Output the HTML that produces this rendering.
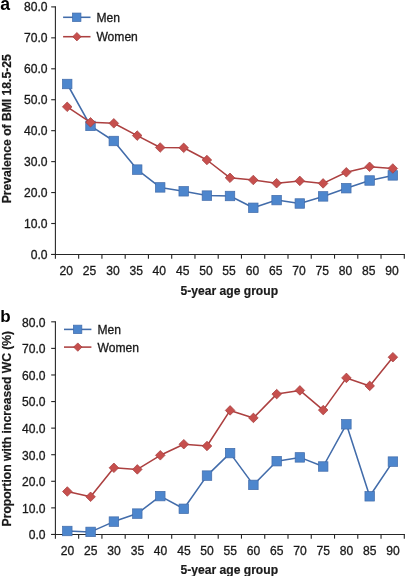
<!DOCTYPE html>
<html><head><meta charset="utf-8"><style>
html,body{margin:0;padding:0;background:#fff;}
body{width:405px;height:576px;overflow:hidden;}
svg{display:block;font-family:"Liberation Sans",sans-serif;}
</style></head><body>
<svg width="405" height="576" viewBox="0 0 405 576">
<defs><filter id="bl" x="0" y="0" width="405" height="576" filterUnits="userSpaceOnUse"><feGaussianBlur stdDeviation="0.3"/></filter></defs>
<rect width="405" height="576" fill="#fff"/>
<g filter="url(#bl)">
<g stroke="#262626" stroke-width="1.1" fill="none">
<path d="M55.4 6.3V258.65"/>
<path d="M51.2 254.45H404.9"/>
<path d="M51.2 254.45H55.4"/>
<path d="M51.2 223.51H55.4"/>
<path d="M51.2 192.56H55.4"/>
<path d="M51.2 161.62H55.4"/>
<path d="M51.2 130.67H55.4"/>
<path d="M51.2 99.73H55.4"/>
<path d="M51.2 68.79H55.4"/>
<path d="M51.2 37.84H55.4"/>
<path d="M51.2 6.9H55.4"/>
<path d="M78.66 254.45V258.65"/>
<path d="M101.92 254.45V258.65"/>
<path d="M125.18 254.45V258.65"/>
<path d="M148.44 254.45V258.65"/>
<path d="M171.7 254.45V258.65"/>
<path d="M194.96 254.45V258.65"/>
<path d="M218.22 254.45V258.65"/>
<path d="M241.48 254.45V258.65"/>
<path d="M264.74 254.45V258.65"/>
<path d="M288 254.45V258.65"/>
<path d="M311.26 254.45V258.65"/>
<path d="M334.52 254.45V258.65"/>
<path d="M357.78 254.45V258.65"/>
<path d="M381.04 254.45V258.65"/>
<path d="M404.3 254.45V258.65"/>
</g>
<g font-size="12.1" fill="#1a1a1a" text-anchor="end" stroke="#1a1a1a" stroke-width="0.3">
<text x="47.5" y="258.65">0.0</text>
<text x="47.5" y="227.71">10.0</text>
<text x="47.5" y="196.76">20.0</text>
<text x="47.5" y="165.82">30.0</text>
<text x="47.5" y="134.87">40.0</text>
<text x="47.5" y="103.93">50.0</text>
<text x="47.5" y="72.99">60.0</text>
<text x="47.5" y="42.04">70.0</text>
<text x="47.5" y="11.1">80.0</text>
</g>
<g font-size="12.1" fill="#1a1a1a" text-anchor="middle" stroke="#1a1a1a" stroke-width="0.3">
<text x="66.3" y="275.1">20</text>
<text x="89.6" y="275.1">25</text>
<text x="112.9" y="275.1">30</text>
<text x="136.3" y="275.1">35</text>
<text x="159.3" y="275.1">40</text>
<text x="182.8" y="275.1">45</text>
<text x="206" y="275.1">50</text>
<text x="229.1" y="275.1">55</text>
<text x="252.4" y="275.1">60</text>
<text x="275.7" y="275.1">65</text>
<text x="298.9" y="275.1">70</text>
<text x="322.2" y="275.1">75</text>
<text x="345.4" y="275.1">80</text>
<text x="368.7" y="275.1">85</text>
<text x="391.9" y="275.1">90</text>
</g>
<text x="229.3" y="294.6" font-size="12.1" font-weight="bold" fill="#1a1a1a" stroke="#1a1a1a" stroke-width="0.2" text-anchor="middle">5-year age group</text>
<text transform="translate(11.1 128.8) rotate(-90)" font-size="12.15" font-weight="bold" fill="#1a1a1a" stroke="#1a1a1a" stroke-width="0.2" text-anchor="middle">Prevalence of BMI 18.5-25</text>
<text x="0.3" y="9.7" font-size="17.6" font-weight="bold" fill="#000">a</text>
<polyline points="67.2,84 90.5,125.9 113.8,141 137.2,169.6 160.2,187.4 183.7,191.3 206.9,195.6 230,196 253.3,207.8 276.6,200.1 299.8,203.5 323.1,196.4 346.3,188.2 369.6,180.5 392.8,175.4" fill="none" stroke="#426CAA" stroke-width="1.55" stroke-linejoin="round"/>
<rect x="62.45" y="79.25" width="9.5" height="9.5" fill="#4D86CD" stroke="#426CAA" stroke-width="0.7"/>
<rect x="85.75" y="121.15" width="9.5" height="9.5" fill="#4D86CD" stroke="#426CAA" stroke-width="0.7"/>
<rect x="109.05" y="136.25" width="9.5" height="9.5" fill="#4D86CD" stroke="#426CAA" stroke-width="0.7"/>
<rect x="132.45" y="164.85" width="9.5" height="9.5" fill="#4D86CD" stroke="#426CAA" stroke-width="0.7"/>
<rect x="155.45" y="182.65" width="9.5" height="9.5" fill="#4D86CD" stroke="#426CAA" stroke-width="0.7"/>
<rect x="178.95" y="186.55" width="9.5" height="9.5" fill="#4D86CD" stroke="#426CAA" stroke-width="0.7"/>
<rect x="202.15" y="190.85" width="9.5" height="9.5" fill="#4D86CD" stroke="#426CAA" stroke-width="0.7"/>
<rect x="225.25" y="191.25" width="9.5" height="9.5" fill="#4D86CD" stroke="#426CAA" stroke-width="0.7"/>
<rect x="248.55" y="203.05" width="9.5" height="9.5" fill="#4D86CD" stroke="#426CAA" stroke-width="0.7"/>
<rect x="271.85" y="195.35" width="9.5" height="9.5" fill="#4D86CD" stroke="#426CAA" stroke-width="0.7"/>
<rect x="295.05" y="198.75" width="9.5" height="9.5" fill="#4D86CD" stroke="#426CAA" stroke-width="0.7"/>
<rect x="318.35" y="191.65" width="9.5" height="9.5" fill="#4D86CD" stroke="#426CAA" stroke-width="0.7"/>
<rect x="341.55" y="183.45" width="9.5" height="9.5" fill="#4D86CD" stroke="#426CAA" stroke-width="0.7"/>
<rect x="364.85" y="175.75" width="9.5" height="9.5" fill="#4D86CD" stroke="#426CAA" stroke-width="0.7"/>
<rect x="388.05" y="170.65" width="9.5" height="9.5" fill="#4D86CD" stroke="#426CAA" stroke-width="0.7"/>
<polyline points="67.2,106.8 90.5,122.3 113.8,123.3 137.2,135.6 160.2,147.5 183.7,147.8 206.9,160 230,177.8 253.3,180 276.6,183.2 299.8,180.9 323.1,183.4 346.3,172.3 369.6,166.8 392.8,168.5" fill="none" stroke="#AC4040" stroke-width="1.55" stroke-linejoin="round"/>
<path d="M67.2 102L72 106.8L67.2 111.6L62.4 106.8Z" fill="#C64F4E" stroke="#A43C3C" stroke-width="0.7" stroke-linejoin="miter"/>
<path d="M90.5 117.5L95.3 122.3L90.5 127.1L85.7 122.3Z" fill="#C64F4E" stroke="#A43C3C" stroke-width="0.7" stroke-linejoin="miter"/>
<path d="M113.8 118.5L118.6 123.3L113.8 128.1L109 123.3Z" fill="#C64F4E" stroke="#A43C3C" stroke-width="0.7" stroke-linejoin="miter"/>
<path d="M137.2 130.8L142 135.6L137.2 140.4L132.4 135.6Z" fill="#C64F4E" stroke="#A43C3C" stroke-width="0.7" stroke-linejoin="miter"/>
<path d="M160.2 142.7L165 147.5L160.2 152.3L155.4 147.5Z" fill="#C64F4E" stroke="#A43C3C" stroke-width="0.7" stroke-linejoin="miter"/>
<path d="M183.7 143L188.5 147.8L183.7 152.6L178.9 147.8Z" fill="#C64F4E" stroke="#A43C3C" stroke-width="0.7" stroke-linejoin="miter"/>
<path d="M206.9 155.2L211.7 160L206.9 164.8L202.1 160Z" fill="#C64F4E" stroke="#A43C3C" stroke-width="0.7" stroke-linejoin="miter"/>
<path d="M230 173L234.8 177.8L230 182.6L225.2 177.8Z" fill="#C64F4E" stroke="#A43C3C" stroke-width="0.7" stroke-linejoin="miter"/>
<path d="M253.3 175.2L258.1 180L253.3 184.8L248.5 180Z" fill="#C64F4E" stroke="#A43C3C" stroke-width="0.7" stroke-linejoin="miter"/>
<path d="M276.6 178.4L281.4 183.2L276.6 188L271.8 183.2Z" fill="#C64F4E" stroke="#A43C3C" stroke-width="0.7" stroke-linejoin="miter"/>
<path d="M299.8 176.1L304.6 180.9L299.8 185.7L295 180.9Z" fill="#C64F4E" stroke="#A43C3C" stroke-width="0.7" stroke-linejoin="miter"/>
<path d="M323.1 178.6L327.9 183.4L323.1 188.2L318.3 183.4Z" fill="#C64F4E" stroke="#A43C3C" stroke-width="0.7" stroke-linejoin="miter"/>
<path d="M346.3 167.5L351.1 172.3L346.3 177.1L341.5 172.3Z" fill="#C64F4E" stroke="#A43C3C" stroke-width="0.7" stroke-linejoin="miter"/>
<path d="M369.6 162L374.4 166.8L369.6 171.6L364.8 166.8Z" fill="#C64F4E" stroke="#A43C3C" stroke-width="0.7" stroke-linejoin="miter"/>
<path d="M392.8 163.7L397.6 168.5L392.8 173.3L388 168.5Z" fill="#C64F4E" stroke="#A43C3C" stroke-width="0.7" stroke-linejoin="miter"/>
<path d="M63.1 17.3H90.5" stroke="#426CAA" stroke-width="1.55"/>
<rect x="72.45" y="13.05" width="8.5" height="8.5" fill="#4D86CD" stroke="#426CAA" stroke-width="0.7"/>
<path d="M63.1 36.7H90.5" stroke="#AC4040" stroke-width="1.55"/>
<path d="M76.9 32.5L81.1 36.7L76.9 40.9L72.7 36.7Z" fill="#C64F4E" stroke="#A43C3C" stroke-width="0.7" stroke-linejoin="miter"/>
<text x="96.4" y="21.6" font-size="12.1" fill="#1a1a1a" stroke="#1a1a1a" stroke-width="0.3">Men</text>
<text x="96.4" y="40.9" font-size="12.1" fill="#1a1a1a" stroke="#1a1a1a" stroke-width="0.3">Women</text>
<g stroke="#262626" stroke-width="1.1" fill="none">
<path d="M55.4 321.2V538.65"/>
<path d="M51.2 534.45H404.9"/>
<path d="M51.2 534.45H55.4"/>
<path d="M51.2 507.87H55.4"/>
<path d="M51.2 481.29H55.4"/>
<path d="M51.2 454.71H55.4"/>
<path d="M51.2 428.13H55.4"/>
<path d="M51.2 401.55H55.4"/>
<path d="M51.2 374.97H55.4"/>
<path d="M51.2 348.39H55.4"/>
<path d="M51.2 321.81H55.4"/>
<path d="M78.66 534.45V538.65"/>
<path d="M101.92 534.45V538.65"/>
<path d="M125.18 534.45V538.65"/>
<path d="M148.44 534.45V538.65"/>
<path d="M171.7 534.45V538.65"/>
<path d="M194.96 534.45V538.65"/>
<path d="M218.22 534.45V538.65"/>
<path d="M241.48 534.45V538.65"/>
<path d="M264.74 534.45V538.65"/>
<path d="M288 534.45V538.65"/>
<path d="M311.26 534.45V538.65"/>
<path d="M334.52 534.45V538.65"/>
<path d="M357.78 534.45V538.65"/>
<path d="M381.04 534.45V538.65"/>
<path d="M404.3 534.45V538.65"/>
</g>
<g font-size="12.1" fill="#1a1a1a" text-anchor="end" stroke="#1a1a1a" stroke-width="0.3">
<text x="45.6" y="539.25">0.0</text>
<text x="45.6" y="512.67">10.0</text>
<text x="45.6" y="486.09">20.0</text>
<text x="45.6" y="459.51">30.0</text>
<text x="45.6" y="432.93">40.0</text>
<text x="45.6" y="406.35">50.0</text>
<text x="45.6" y="379.77">60.0</text>
<text x="45.6" y="353.19">70.0</text>
<text x="45.6" y="326.61">80.0</text>
</g>
<g font-size="12.1" fill="#1a1a1a" text-anchor="middle" stroke="#1a1a1a" stroke-width="0.3">
<text x="67.4" y="554.6">20</text>
<text x="90.7" y="554.6">25</text>
<text x="114" y="554.6">30</text>
<text x="137.4" y="554.6">35</text>
<text x="160.4" y="554.6">40</text>
<text x="183.9" y="554.6">45</text>
<text x="207.1" y="554.6">50</text>
<text x="230.2" y="554.6">55</text>
<text x="253.5" y="554.6">60</text>
<text x="276.8" y="554.6">65</text>
<text x="300" y="554.6">70</text>
<text x="323.3" y="554.6">75</text>
<text x="346.5" y="554.6">80</text>
<text x="369.8" y="554.6">85</text>
<text x="393" y="554.6">90</text>
</g>
<text x="229.3" y="573.9" font-size="12.1" font-weight="bold" fill="#1a1a1a" stroke="#1a1a1a" stroke-width="0.2" text-anchor="middle">5-year age group</text>
<text transform="translate(11.2 428.65) rotate(-90)" font-size="12.15" font-weight="bold" fill="#1a1a1a" stroke="#1a1a1a" stroke-width="0.2" text-anchor="middle">Proportion with increased WC (%)</text>
<text x="0.3" y="321.6" font-size="17" font-weight="bold" fill="#000">b</text>
<polyline points="67.3,531 90.6,531.9 113.9,521.6 137.3,513.6 160.3,496.1 183.8,508.8 207,475.6 230.1,453.1 253.4,484.9 276.7,461.2 299.9,457.4 323.2,466.5 346.4,424.3 369.7,496.3 392.9,461.6" fill="none" stroke="#426CAA" stroke-width="1.55" stroke-linejoin="round"/>
<rect x="62.55" y="526.25" width="9.5" height="9.5" fill="#4D86CD" stroke="#426CAA" stroke-width="0.7"/>
<rect x="85.85" y="527.15" width="9.5" height="9.5" fill="#4D86CD" stroke="#426CAA" stroke-width="0.7"/>
<rect x="109.15" y="516.85" width="9.5" height="9.5" fill="#4D86CD" stroke="#426CAA" stroke-width="0.7"/>
<rect x="132.55" y="508.85" width="9.5" height="9.5" fill="#4D86CD" stroke="#426CAA" stroke-width="0.7"/>
<rect x="155.55" y="491.35" width="9.5" height="9.5" fill="#4D86CD" stroke="#426CAA" stroke-width="0.7"/>
<rect x="179.05" y="504.05" width="9.5" height="9.5" fill="#4D86CD" stroke="#426CAA" stroke-width="0.7"/>
<rect x="202.25" y="470.85" width="9.5" height="9.5" fill="#4D86CD" stroke="#426CAA" stroke-width="0.7"/>
<rect x="225.35" y="448.35" width="9.5" height="9.5" fill="#4D86CD" stroke="#426CAA" stroke-width="0.7"/>
<rect x="248.65" y="480.15" width="9.5" height="9.5" fill="#4D86CD" stroke="#426CAA" stroke-width="0.7"/>
<rect x="271.95" y="456.45" width="9.5" height="9.5" fill="#4D86CD" stroke="#426CAA" stroke-width="0.7"/>
<rect x="295.15" y="452.65" width="9.5" height="9.5" fill="#4D86CD" stroke="#426CAA" stroke-width="0.7"/>
<rect x="318.45" y="461.75" width="9.5" height="9.5" fill="#4D86CD" stroke="#426CAA" stroke-width="0.7"/>
<rect x="341.65" y="419.55" width="9.5" height="9.5" fill="#4D86CD" stroke="#426CAA" stroke-width="0.7"/>
<rect x="364.95" y="491.55" width="9.5" height="9.5" fill="#4D86CD" stroke="#426CAA" stroke-width="0.7"/>
<rect x="388.15" y="456.85" width="9.5" height="9.5" fill="#4D86CD" stroke="#426CAA" stroke-width="0.7"/>
<polyline points="67.3,491.5 90.6,496.8 113.9,467.8 137.3,469.4 160.3,455.3 183.8,444.2 207,446 230.1,410.4 253.4,417.9 276.7,394.1 299.9,390.4 323.2,410.1 346.4,377.9 369.7,385.9 392.9,357.2" fill="none" stroke="#AC4040" stroke-width="1.55" stroke-linejoin="round"/>
<path d="M67.3 486.7L72.1 491.5L67.3 496.3L62.5 491.5Z" fill="#C64F4E" stroke="#A43C3C" stroke-width="0.7" stroke-linejoin="miter"/>
<path d="M90.6 492L95.4 496.8L90.6 501.6L85.8 496.8Z" fill="#C64F4E" stroke="#A43C3C" stroke-width="0.7" stroke-linejoin="miter"/>
<path d="M113.9 463L118.7 467.8L113.9 472.6L109.1 467.8Z" fill="#C64F4E" stroke="#A43C3C" stroke-width="0.7" stroke-linejoin="miter"/>
<path d="M137.3 464.6L142.1 469.4L137.3 474.2L132.5 469.4Z" fill="#C64F4E" stroke="#A43C3C" stroke-width="0.7" stroke-linejoin="miter"/>
<path d="M160.3 450.5L165.1 455.3L160.3 460.1L155.5 455.3Z" fill="#C64F4E" stroke="#A43C3C" stroke-width="0.7" stroke-linejoin="miter"/>
<path d="M183.8 439.4L188.6 444.2L183.8 449L179 444.2Z" fill="#C64F4E" stroke="#A43C3C" stroke-width="0.7" stroke-linejoin="miter"/>
<path d="M207 441.2L211.8 446L207 450.8L202.2 446Z" fill="#C64F4E" stroke="#A43C3C" stroke-width="0.7" stroke-linejoin="miter"/>
<path d="M230.1 405.6L234.9 410.4L230.1 415.2L225.3 410.4Z" fill="#C64F4E" stroke="#A43C3C" stroke-width="0.7" stroke-linejoin="miter"/>
<path d="M253.4 413.1L258.2 417.9L253.4 422.7L248.6 417.9Z" fill="#C64F4E" stroke="#A43C3C" stroke-width="0.7" stroke-linejoin="miter"/>
<path d="M276.7 389.3L281.5 394.1L276.7 398.9L271.9 394.1Z" fill="#C64F4E" stroke="#A43C3C" stroke-width="0.7" stroke-linejoin="miter"/>
<path d="M299.9 385.6L304.7 390.4L299.9 395.2L295.1 390.4Z" fill="#C64F4E" stroke="#A43C3C" stroke-width="0.7" stroke-linejoin="miter"/>
<path d="M323.2 405.3L328 410.1L323.2 414.9L318.4 410.1Z" fill="#C64F4E" stroke="#A43C3C" stroke-width="0.7" stroke-linejoin="miter"/>
<path d="M346.4 373.1L351.2 377.9L346.4 382.7L341.6 377.9Z" fill="#C64F4E" stroke="#A43C3C" stroke-width="0.7" stroke-linejoin="miter"/>
<path d="M369.7 381.1L374.5 385.9L369.7 390.7L364.9 385.9Z" fill="#C64F4E" stroke="#A43C3C" stroke-width="0.7" stroke-linejoin="miter"/>
<path d="M392.9 352.4L397.7 357.2L392.9 362L388.1 357.2Z" fill="#C64F4E" stroke="#A43C3C" stroke-width="0.7" stroke-linejoin="miter"/>
<path d="M64 329.4H91.4" stroke="#426CAA" stroke-width="1.55"/>
<rect x="73.35" y="325.15" width="8.5" height="8.5" fill="#4D86CD" stroke="#426CAA" stroke-width="0.7"/>
<path d="M64 347.1H91.4" stroke="#AC4040" stroke-width="1.55"/>
<path d="M77.8 342.9L82 347.1L77.8 351.3L73.6 347.1Z" fill="#C64F4E" stroke="#A43C3C" stroke-width="0.7" stroke-linejoin="miter"/>
<text x="97.5" y="333.8" font-size="12.1" fill="#1a1a1a" stroke="#1a1a1a" stroke-width="0.3">Men</text>
<text x="97.5" y="351.8" font-size="12.1" fill="#1a1a1a" stroke="#1a1a1a" stroke-width="0.3">Women</text>
</g>
</svg>
</body></html>
